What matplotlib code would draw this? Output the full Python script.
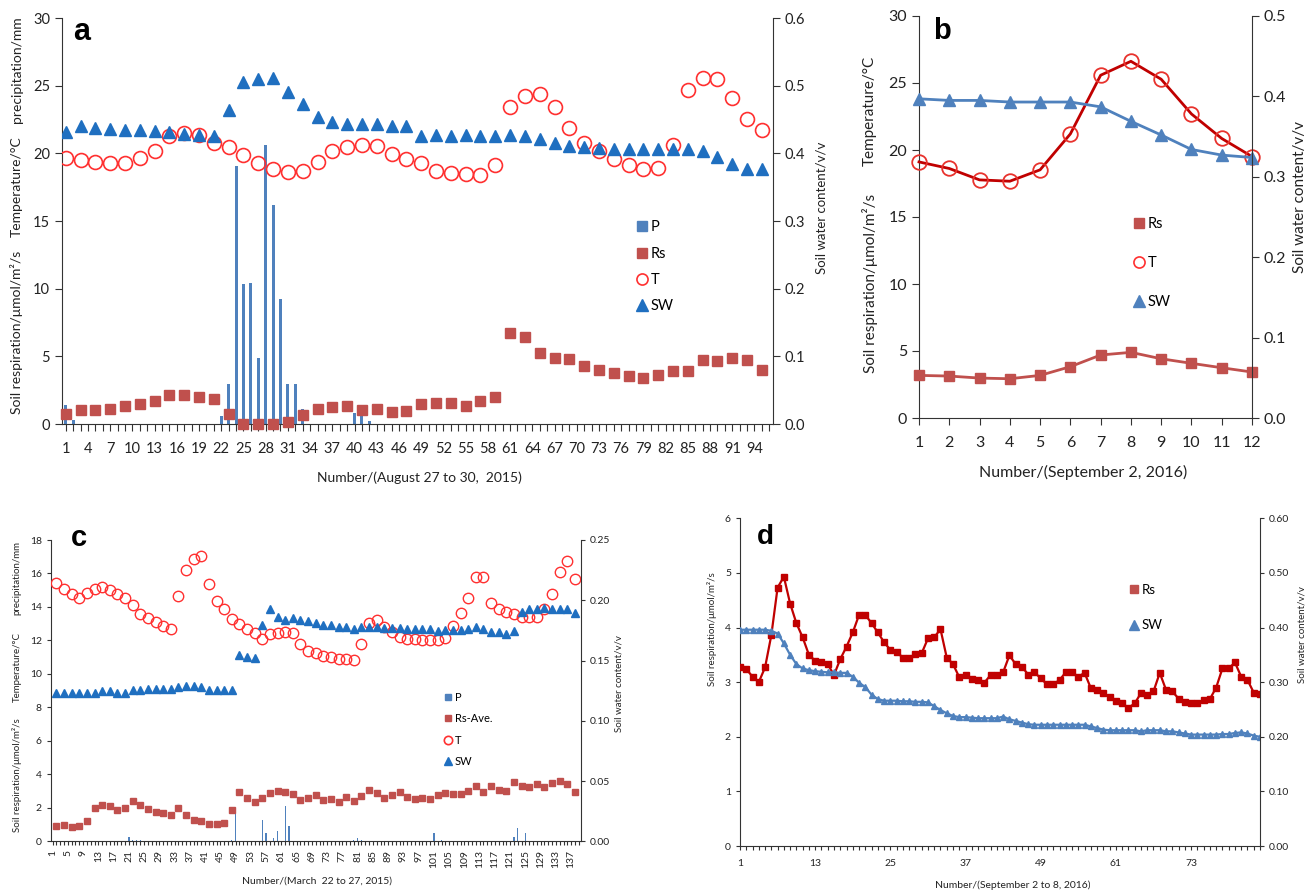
import matplotlib.pyplot as plt
from matplotlib.lines import Line2D

plt.rcParams['font.family'] = ['Lato', 'DejaVu Sans']

# ---------------- panel a (August 27 to 30, 2015) ----------------
a_num = list(range(1, 96, 2))
a_rs = [0.74, 1.01, 1.06, 1.13, 1.36, 1.48, 1.70, 2.15, 2.15, 2.00, 1.88,
        0.72, 0.02, 0.02, 0.02, 0.15, 0.69, 1.11, 1.28, 1.33, 1.01, 1.09, 0.86, 0.94,
        1.48, 1.55, 1.53, 1.36, 1.68, 2.00, 6.76, 6.44,
        5.21, 4.89, 4.79, 4.29, 4.02,
        3.75, 3.58, 3.43, 3.65, 3.95, 3.92,
        4.74, 4.66, 4.91, 4.74, 4.02]
a_t = [19.64, 19.49, 19.39, 19.32, 19.32, 19.62, 20.16, 21.29, 21.47, 21.32, 20.80,
       20.48, 19.91, 19.32, 18.87, 18.65, 18.68, 19.37, 20.16, 20.50, 20.58, 20.55, 19.98, 19.57,
       19.27, 18.73, 18.55, 18.50, 18.43, 19.12, 23.44, 24.25,
       24.35, 23.41, 21.84, 20.75, 20.18,
       19.57, 19.15, 18.83, 18.95, 20.63, 24.70,
       25.54, 25.46, 24.11, 22.53, 21.71]
a_sw = [0.431, 0.440, 0.437, 0.436, 0.435, 0.434, 0.433, 0.431, 0.429, 0.427, 0.426,
        0.464, 0.506, 0.510, 0.512, 0.491, 0.473, 0.453, 0.447, 0.444, 0.443, 0.443, 0.441, 0.440,
        0.426, 0.427, 0.426, 0.427, 0.426, 0.426, 0.427, 0.425,
        0.421, 0.416, 0.411, 0.410, 0.408,
        0.407, 0.407, 0.407, 0.407, 0.407, 0.407,
        0.404, 0.395, 0.384, 0.377, 0.377]
a_p_num = [1, 2, 22, 23, 24, 25, 26, 27, 28, 29, 30, 31, 32, 33, 40, 41, 42]
a_p = [1.43, 0.27, 0.57, 2.94, 19.10, 10.31, 10.39, 4.89, 20.58, 16.19, 9.20,
       2.94, 2.94, 1.14, 0.84, 0.64, 0.20]

# ---------------- panel b (September 2, 2016) ----------------
b_num = list(range(1, 13))
b_rs = [3.18, 3.13, 2.98, 2.93, 3.18, 3.83, 4.70, 4.90, 4.42, 4.08, 3.75, 3.43]
b_t = [19.11, 18.62, 17.77, 17.67, 18.52, 21.20, 25.58, 26.62, 25.28, 22.69, 20.86, 19.51]
b_sw = [0.397, 0.395, 0.395, 0.393, 0.393, 0.393, 0.387, 0.369, 0.352, 0.334, 0.327, 0.324]

# ---------------- panel c (March 22 to 27, 2015) ----------------
c_num = list(range(2, 139, 2))
c_t = [15.45, 15.07, 14.76, 14.56, 14.83, 15.07, 15.17, 15.01, 14.79, 14.52, 14.10, 13.58,
       13.36, 13.10, 12.86, 12.70,
       14.66, 16.23, 16.89, 17.05, 15.35, 14.38, 13.90, 13.30,
       12.98, 12.70, 12.43, 12.11, 12.39, 12.45, 12.51, 12.43,
       11.81, 11.39, 11.27, 11.07, 11.03, 10.89, 10.87, 10.85,
       11.79, 13.04, 13.22,
       12.82, 12.52, 12.23, 12.07, 12.07, 12.03, 12.03, 12.03, 12.17,
       12.86, 13.66, 14.52, 15.79, 15.81, 14.26, 13.88, 13.68,
       13.56, 13.42, 13.42, 13.42, 13.86, 14.76, 16.09, 16.75, 15.67]
c_sw = [0.1233, 0.1233, 0.1233, 0.1233, 0.1233, 0.1233, 0.1247, 0.1247, 0.1233, 0.1233,
        0.1256, 0.1256, 0.1267, 0.1267, 0.1267, 0.1267,
        0.1278, 0.1289, 0.1289, 0.1278,
        0.1256, 0.1256, 0.1256, 0.1256,
        0.1543, 0.1526, 0.1521,
        0.1792, 0.1928, 0.1858, 0.1836, 0.1853, 0.1836, 0.1828, 0.1808, 0.1797, 0.1792,
        0.1781, 0.1775, 0.1764, 0.1775, 0.1781, 0.1781,
        0.1772, 0.1772, 0.1772,
        0.1761, 0.1761, 0.1761, 0.1761,
        0.1747, 0.1753, 0.1753, 0.1753, 0.1761, 0.1775, 0.1761, 0.1739, 0.1739, 0.1721, 0.1744,
        0.1900, 0.1925, 0.1925, 0.1933, 0.1925, 0.1925, 0.1925, 0.1897]
c_rs = [0.94, 0.98, 0.88, 0.94, 1.19, 1.97, 2.15, 2.11, 1.85, 1.97, 2.43, 2.19, 1.91, 1.77,
        1.67, 1.57,
        1.97, 1.59, 1.29, 1.19, 1.02, 1.02, 1.08, 1.87,
        2.93, 2.57, 2.33, 2.61, 2.87, 2.99, 2.95, 2.85, 2.47, 2.57, 2.75, 2.47, 2.51, 2.37,
        2.67, 2.39, 2.71, 3.05, 2.91,
        2.61, 2.79, 2.93, 2.63, 2.51, 2.57, 2.51, 2.75, 2.87, 2.81, 2.81, 3.01, 3.33, 2.93,
        3.31, 3.07, 3.03, 3.52, 3.33, 3.23, 3.41, 3.27, 3.50, 3.60, 3.41, 2.97]
c_p_num = [13, 21, 22, 23, 24, 48, 49, 56, 57, 59, 60, 62, 63, 80, 81, 82, 83, 101, 103,
           122, 123, 125]
c_p = [0.04, 0.28, 0.06, 0.06, 0.06, 0.05, 1.85, 1.27, 0.48, 0.18, 0.64, 2.11, 0.90, 0.06,
       0.18, 0.06, 0.04, 0.48, 0.05, 0.28, 0.78, 0.48]

# ---------------- panel d (September 2 to 8, 2016) ----------------
d_num = list(range(1, 85))
d_rs = [3.27, 3.24, 3.10, 3.00, 3.27, 3.86, 4.73, 4.93, 4.44, 4.08,
        3.82, 3.50, 3.39, 3.36, 3.33, 3.13, 3.42, 3.65, 3.91, 4.23,
        4.23, 4.08, 3.91, 3.73, 3.59, 3.55, 3.45, 3.44, 3.52, 3.53,
        3.80, 3.82, 3.97, 3.45, 3.33, 3.09, 3.14, 3.05, 3.04, 2.99,
        3.13, 3.14, 3.18, 3.49, 3.33, 3.28, 3.14, 3.18, 3.07, 2.96,
        2.96, 3.04, 3.18, 3.18, 3.10, 3.17, 2.89, 2.86, 2.81, 2.72,
        2.66, 2.61, 2.53, 2.61, 2.80, 2.77, 2.83, 3.17, 2.86, 2.83,
        2.70, 2.63, 2.61, 2.61, 2.67, 2.69, 2.90, 3.25, 3.25, 3.36,
        3.10, 3.04, 2.81, 2.78]
d_sw = [0.396, 0.396, 0.396, 0.396, 0.396, 0.394, 0.389, 0.371, 0.350, 0.333,
        0.325, 0.322, 0.320, 0.319, 0.318, 0.318, 0.317, 0.317, 0.310, 0.299,
        0.291, 0.277, 0.269, 0.266, 0.266, 0.266, 0.265, 0.265, 0.264, 0.264,
        0.263, 0.256, 0.249, 0.243, 0.238, 0.236, 0.236, 0.235, 0.234, 0.234,
        0.234, 0.234, 0.237, 0.232, 0.229, 0.226, 0.223, 0.222, 0.222, 0.222,
        0.222, 0.222, 0.222, 0.222, 0.222, 0.222, 0.219, 0.216, 0.213, 0.212,
        0.212, 0.212, 0.212, 0.212, 0.210, 0.212, 0.212, 0.212, 0.210, 0.210,
        0.208, 0.206, 0.204, 0.204, 0.204, 0.204, 0.204, 0.205, 0.205, 0.207,
        0.208, 0.206, 0.202, 0.200]

# colours
BAR = '#4F81BD'
RS = '#C0504D'
TC = '#FF3030'
SWA = '#1F6FC0'
SWB = '#4F81BD'
DARK = '#C00000'
INK = '#333333'

W, H = 1308, 891
fig = plt.figure(figsize=(W / 100, H / 100), dpi=100)


def px_axes(l, r, t, b):
    return fig.add_axes([l / W, 1 - b / H, (r - l) / W, (b - t) / H])


def style(ax, ax2, fs, tl=4):
    ax.spines['top'].set_visible(False)
    ax.spines['right'].set_visible(False)
    ax2.spines['top'].set_visible(False)
    ax2.spines['left'].set_visible(False)
    ax2.spines['bottom'].set_visible(False)
    for s in ('left', 'bottom'):
        ax.spines[s].set_color(INK)
    ax2.spines['right'].set_color(INK)
    ax.tick_params(labelsize=fs, length=tl, color=INK, labelcolor='#222222')
    ax2.tick_params(labelsize=fs, length=tl, color=INK, labelcolor='#222222')


def ftext(x, y, s, fs, rot=0, **kw):
    fig.text(x / W, 1 - y / H, s, fontsize=fs, rotation=rot, ha='center', va='center',
             color='#222222', **kw)


def legend(ax, handles, labels, x, y, fs, spacing):
    ax.legend(handles, labels, loc='upper left', bbox_to_anchor=(x / W, 1 - y / H),
              bbox_transform=fig.transFigure, frameon=False, fontsize=fs, borderpad=0,
              handlelength=0.8, handletextpad=0.2, labelspacing=spacing)


def mk(marker, color, ms, hollow=False):
    if hollow:
        return Line2D([], [], ls='none', marker=marker, ms=ms, mfc='none', mec=color, mew=1.2)
    return Line2D([], [], ls='none', marker=marker, ms=ms, color=color)


def panel_letter(ax, s, x, y, fs):
    ax.text(x, y, s, transform=ax.transAxes, fontsize=fs, fontweight='bold',
            family='Liberation Sans', va='center', ha='left')


# ================= a =================
ax = px_axes(62, 773, 18, 424)
ax2 = ax.twinx()
ax.bar(a_p_num, a_p, width=0.4, color=BAR, zorder=1)
ax.plot(a_num, a_rs, ls='none', marker='s', ms=6.5, color=RS, clip_on=False, zorder=3)
ax.plot(a_num, a_t, ls='none', marker='o', ms=10, mfc='none', mec=TC, mew=1.2, zorder=3)
ax2.plot(a_num, a_sw, ls='none', marker='^', ms=9, color=SWA)
ax.set_xlim(0.5, 96.5)
ax.set_ylim(0, 30)
ax2.set_ylim(0, 0.6)
ax.set_yticks(range(0, 31, 5))
ax2.set_yticks([i / 10 for i in range(7)])
ax2.set_yticklabels([f'{i / 10:.1f}' for i in range(7)])
ax.set_xticks(range(1, 97))
ax.set_xticklabels([str(i) if (i - 1) % 3 == 0 else '' for i in range(1, 97)])
style(ax, ax2, 10.5, tl=5)
ax.tick_params(axis='x', pad=8)
panel_letter(ax, 'a', 0.015, 0.966, 22)
legend(ax, [mk('s', BAR, 6.5), mk('s', RS, 6.5), mk('o', TC, 8, True), mk('^', SWA, 8)],
       ['P', 'Rs', 'T', 'SW'], 629, 213, 10.5, 0.85)
ftext(17, 332, 'Soil respiration/μmol/m²/s', 10, 90)
ftext(17, 187, 'Temperature/°C', 10, 90)
ftext(17, 70, 'precipitation/mm', 10, 90)
ftext(822, 208, 'Soil water content/v/v', 9.5, 90)
ftext(419, 478, 'Number/(August 27 to 30,  2015)', 10)

# ================= b =================
ax = px_axes(919, 1252, 16, 418)
ax2 = ax.twinx()
ax.plot(b_num, b_rs, '-s', color=RS, ms=7.5, lw=2, clip_on=False, zorder=3)
ax.plot(b_num, b_t, '-o', color=DARK, ms=10.5, lw=2, mfc='none', mec='#E8322D', mew=1.3,
        clip_on=False, zorder=3)
ax2.plot(b_num, b_sw, '-^', color=SWB, ms=9, lw=2, clip_on=False)
ax.set_xlim(1, 12)
ax.set_ylim(0, 30)
ax2.set_ylim(0, 0.5)
ax.set_xticks(b_num)
ax.set_yticks(range(0, 31, 5))
ax2.set_yticks([i / 10 for i in range(6)])
ax2.set_yticklabels([f'{i / 10:.1f}' for i in range(6)])
style(ax, ax2, 11.5, tl=5)
ax.tick_params(axis='x', pad=8)
panel_letter(ax, 'b', 0.042, 0.963, 21)
legend(ax, [mk('s', RS, 6.5), mk('o', TC, 8, True), mk('^', SWB, 8)],
       ['Rs', 'T', 'SW'], 1126, 210, 10.5, 1.7)
ftext(870, 283, 'Soil respiration/μmol/m²/s', 11, 90)
ftext(870, 111, 'Temperature/°C', 11, 90)
ftext(1300, 197, 'Soil water content/v/v', 11, 90)
ftext(1083, 472, 'Number/(September 2, 2016)', 11.5)

# ================= c =================
ax = px_axes(50.7, 580.7, 540, 841.3)
ax2 = ax.twinx()
ax.bar(c_p_num, c_p, width=0.35, color=BAR, zorder=1)
ax.plot(c_num, c_rs, ls='none', marker='s', ms=5, color=RS, zorder=3)
ax.plot(c_num, c_t, ls='none', marker='o', ms=7.5, mfc='none', mec=TC, mew=1.0, zorder=3)
ax2.plot(c_num, c_sw, ls='none', marker='^', ms=6, color=SWA)
ax.set_xlim(0.5, 139.5)
ax.set_ylim(0, 18)
ax2.set_ylim(0, 0.25)
ax.set_yticks(range(0, 19, 2))
ax2.set_yticks([i * 0.05 for i in range(6)])
ax2.set_yticklabels([f'{i * 0.05:.2f}' for i in range(6)])
ax.set_xticks(range(1, 140))
ax.set_xticklabels([str(i) if (i - 1) % 4 == 0 else '' for i in range(1, 140)], rotation=90)
style(ax, ax2, 7.5, tl=3)
panel_letter(ax, 'c', 0.038, 1.006, 21)
legend(ax, [mk('s', BAR, 5), mk('s', RS, 5), mk('o', TC, 6, True), mk('^', SWA, 6)],
       ['P', 'Rs-Ave.', 'T', 'SW'], 438, 686, 8, 0.95)
ftext(17, 775, 'Soil respiration/μmol/m²/s', 7, 90)
ftext(17, 667, 'Temperature/°C', 7, 90)
ftext(17, 578, 'precipitation/mm', 7, 90)
ftext(619, 684, 'Soil water content/v/v', 7, 90)
ftext(317, 881, 'Number/(March  22 to 27, 2015)', 7.5)

# ================= d =================
ax = px_axes(740, 1260, 518.3, 846)
ax2 = ax.twinx()
ax.plot(d_num, d_rs, '-s', color=DARK, ms=5, lw=1.6, zorder=3)
ax2.plot(d_num, d_sw, '-^', color=SWB, ms=5, lw=1.6)
ax.set_xlim(1, 84)
ax.set_ylim(0, 6)
ax2.set_ylim(0, 0.6)
ax.set_yticks(range(0, 7))
ax2.set_yticks([i / 10 for i in range(7)])
ax2.set_yticklabels([f'{i / 10:.2f}' for i in range(7)])
ax.set_xticks(d_num)
ax.set_xticklabels([str(i) if (i - 1) % 12 == 0 else '' for i in d_num])
style(ax, ax2, 7.5, tl=3)
ax.tick_params(axis='x', pad=6)
panel_letter(ax, 'd', 0.033, 0.943, 20)
legend(ax, [mk('s', RS, 5.5), mk('^', SWB, 6.5)], ['Rs', 'SW'], 1122, 577, 9.5, 1.8)
ftext(712, 629, 'Soil respiration/μmol/m²/s', 7, 90)
ftext(1302, 635, 'Soil water content/v/v', 7, 90)
ftext(1013, 885, 'Number/(September 2 to 8, 2016)', 7.5)

fig.savefig('out.png', dpi=100)
